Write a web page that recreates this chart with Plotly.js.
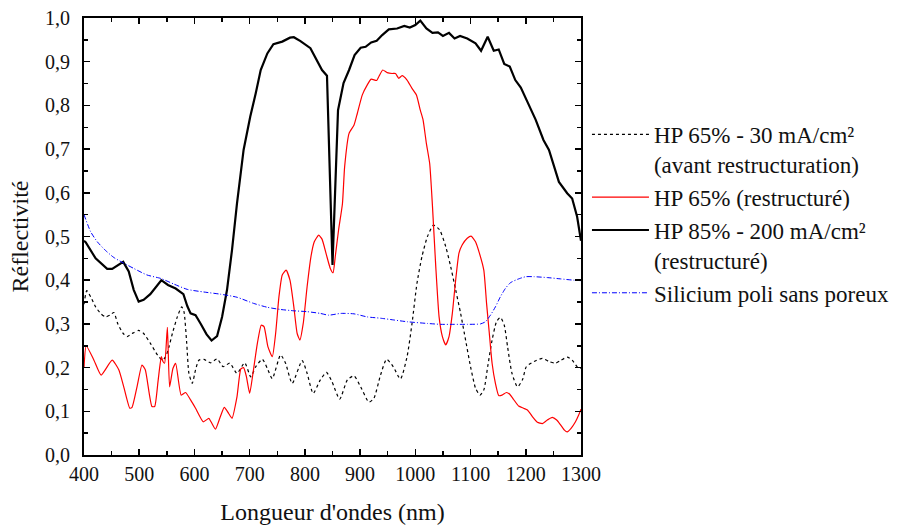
<!DOCTYPE html>
<html>
<head>
<meta charset="utf-8">
<script src="https://cdn.plot.ly/plotly-3.0.1.min.js"></script>
<style>
  html, body { margin: 0; padding: 0; background: #fff; }
  #chart { width: 902px; height: 526px; }
</style>
</head>
<body>
<div id="chart"></div>
<script>
// Reflectivity spectra, wavelength in nm
const names = [
  "HP 65% - 30 mA/cm²<br>(avant restructuration)",
  "HP 65% (restructuré)",
  "HP 85% - 200 mA/cm²<br>(restructuré)",
  "Silicium poli sans poreux"
];

const hp65AvantX = [400,405,412,421,430,439,447,454,461,471,478,487,499,508,520,533,542,548,554,560,569,577,581,586,590,596,602,608,617,629,641,652,664,677,691,702,711,723,732,741,756,765,777,795,804,815,828,839,849,863,877,889,901,916,925,937,948,960,973,985,994,1003,1012,1022,1033,1044,1055,1064,1073,1082,1091,1100,1109,1117,1124,1131,1139,1147,1154,1161,1167,1175,1185,1194,1201,1215,1230,1242,1254,1264,1275,1284,1293,1300];
const hp65AvantY = [0.345,0.376,0.362,0.339,0.324,0.316,0.32,0.326,0.301,0.278,0.271,0.278,0.285,0.278,0.256,0.229,0.217,0.225,0.248,0.278,0.316,0.339,0.328,0.256,0.187,0.164,0.195,0.217,0.219,0.211,0.22,0.202,0.21,0.187,0.211,0.179,0.202,0.219,0.198,0.175,0.229,0.21,0.164,0.216,0.187,0.141,0.172,0.189,0.168,0.128,0.172,0.181,0.156,0.121,0.13,0.183,0.219,0.202,0.174,0.225,0.301,0.393,0.454,0.50,0.526,0.515,0.477,0.431,0.378,0.324,0.263,0.202,0.153,0.137,0.149,0.202,0.263,0.305,0.315,0.297,0.248,0.187,0.156,0.172,0.202,0.214,0.221,0.214,0.21,0.217,0.224,0.217,0.202,0.198];

const hp65RestX = [400,404,418,431,451,463,472,483,487,496,505,511,523,528,534,540,543,546,551,555,561,566,576,584,593,602,616,626,630,638,647,654,662,668,677,684,689,694,700,706,714,721,726,733,741,747,753,759,766,773,780,786,791,797,804,811,817,825,831,839,846,851,855,861,868,872,880,889,895,904,913,920,930,934,941,949,958,964,970,976,985,994,1002,1009,1014,1020,1026,1031,1037,1043,1049,1055,1061,1067,1073,1079,1085,1094,1101,1109,1116,1124,1129,1134,1139,1145,1151,1157,1165,1171,1178,1187,1196,1203,1212,1221,1230,1239,1248,1256,1263,1270,1275,1282,1290,1296,1300];
const hp65RestY = [0.2,0.25,0.217,0.183,0.217,0.195,0.156,0.107,0.109,0.156,0.206,0.195,0.111,0.111,0.168,0.225,0.214,0.21,0.292,0.156,0.198,0.21,0.137,0.143,0.126,0.107,0.076,0.084,0.076,0.059,0.088,0.109,0.095,0.084,0.133,0.197,0.2,0.18,0.141,0.187,0.256,0.297,0.294,0.248,0.225,0.278,0.362,0.412,0.423,0.40,0.339,0.278,0.263,0.301,0.385,0.454,0.488,0.503,0.494,0.458,0.427,0.417,0.454,0.515,0.575,0.66,0.736,0.755,0.782,0.824,0.847,0.86,0.857,0.866,0.881,0.875,0.873,0.873,0.862,0.868,0.858,0.839,0.824,0.789,0.767,0.713,0.667,0.57,0.431,0.316,0.271,0.252,0.271,0.324,0.40,0.462,0.481,0.496,0.501,0.488,0.462,0.423,0.347,0.278,0.21,0.164,0.136,0.137,0.143,0.139,0.127,0.112,0.107,0.103,0.088,0.075,0.072,0.08,0.086,0.08,0.069,0.057,0.053,0.061,0.076,0.092,0.105];

const hp85X = [400,403,421,442,451,471,481,490,499,508,520,531,540,552,566,580,587,593,602,611,622,631,641,650,659,668,677,689,701,711,720,732,743,759,773,780,792,810,822,831,840,850,860,870,880,890,901,910,920,930,940,952,967,980,990,1000,1009,1020,1031,1041,1050,1061,1071,1081,1094,1109,1119,1131,1142,1151,1161,1171,1181,1191,1203,1218,1232,1242,1260,1275,1284,1293,1300];
const hp85Y = [0.49,0.487,0.45,0.426,0.426,0.442,0.42,0.378,0.351,0.355,0.368,0.385,0.40,0.389,0.381,0.368,0.341,0.324,0.32,0.301,0.276,0.262,0.272,0.316,0.378,0.469,0.575,0.698,0.774,0.828,0.881,0.919,0.94,0.946,0.955,0.956,0.947,0.931,0.904,0.881,0.868,0.435,0.789,0.851,0.881,0.915,0.932,0.934,0.944,0.948,0.961,0.974,0.976,0.982,0.978,0.984,0.994,0.976,0.966,0.967,0.959,0.966,0.953,0.959,0.953,0.942,0.925,0.957,0.925,0.928,0.895,0.889,0.858,0.841,0.808,0.767,0.721,0.698,0.625,0.599,0.587,0.545,0.49];

const siliciumX = [400,412,424,439,454,472,490,514,539,563,587,617,647,677,707,732,756,780,804,828,843,865,889,913,937,961,985,1022,1046,1070,1094,1118,1127,1136,1145,1154,1163,1172,1185,1200,1215,1239,1263,1287,1300];
const siliciumY = [0.55,0.511,0.488,0.468,0.452,0.439,0.427,0.412,0.404,0.391,0.379,0.373,0.368,0.361,0.347,0.338,0.333,0.33,0.328,0.324,0.32,0.324,0.323,0.316,0.313,0.309,0.305,0.301,0.299,0.299,0.299,0.30,0.305,0.32,0.339,0.362,0.381,0.394,0.402,0.408,0.408,0.406,0.403,0.40,0.399];

const xTickVals = [400,500,600,700,800,900,1000,1100,1200,1300];
const xTickText = ["400","500","600","700","800","900","1000","1100","1200","1300"];

const serif = "'Liberation Serif', 'DejaVu Serif', serif";

const traces = [
  { x: hp65AvantX, y: hp65AvantY, name: names[0], mode: "lines",
    line: { color: "#000", width: 1.2, dash: "3px,3px", shape: "spline", smoothing: 0.6 } },
  { x: hp65RestX, y: hp65RestY, name: names[1], mode: "lines",
    line: { color: "#ff0000", width: 1.2, shape: "spline", smoothing: 0.5 } },
  { x: hp85X, y: hp85Y, name: names[2], mode: "lines",
    line: { color: "#000", width: 2.2 } },
  { x: siliciumX, y: siliciumY, name: names[3], mode: "lines",
    line: { color: "#0000ff", width: 1, dash: "5px,2px,1px,2px", shape: "spline", smoothing: 0.6 } }
];

const axisCommon = {
  showgrid: false, zeroline: false,
  showline: true, linecolor: "#000", linewidth: 2,
  mirror: "ticks",
  ticks: "inside", ticklen: 6, tickwidth: 1.5, tickcolor: "#000",
  tickfont: { family: serif, size: 20, color: "#111" }
};

const layout = {
  width: 902, height: 526,
  margin: { l: 84, r: 321, t: 18, b: 71, autoexpand: false },
  paper_bgcolor: "#fff", plot_bgcolor: "#fff",
  separators: ", ",
  showlegend: true,
  font: { family: serif, color: "#111" },
  xaxis: Object.assign({}, axisCommon, {
    range: [400, 1300],
    tickmode: "array", tickvals: xTickVals, ticktext: xTickText,
    minor: { dtick: 50, tick0: 400, ticks: "inside", ticklen: 4, tickwidth: 1.5, tickcolor: "#000" },
    ticklabelstandoff: 0,
    title: { text: "Longueur d'ondes (nm)", font: { family: serif, size: 24, color: "#111" }, standoff: 19 }
  }),
  yaxis: Object.assign({}, axisCommon, {
    range: [0, 1.0],
    dtick: 0.1, tick0: 0, tickformat: ".1f",
    minor: { dtick: 0.05, ticks: "inside", ticklen: 4, tickwidth: 1.5, tickcolor: "#000" },
    ticklabelstandoff: 8,
    title: { text: "Réflectivité", font: { family: serif, size: 24, color: "#111" }, standoff: 10 }
  }),
  legend: {
    x: 1.012, xanchor: "left", y: 0.783, yanchor: "top",
    font: { family: serif, size: 23, color: "#111" },
    bgcolor: "rgba(0,0,0,0)",
    itemwidth: 57, valign: "top", tracegroupgap: 0,
    itemclick: false
  }
};

Plotly.newPlot("chart", traces, layout, { staticPlot: true, displayModeBar: false });
</script>
</body>
</html>
